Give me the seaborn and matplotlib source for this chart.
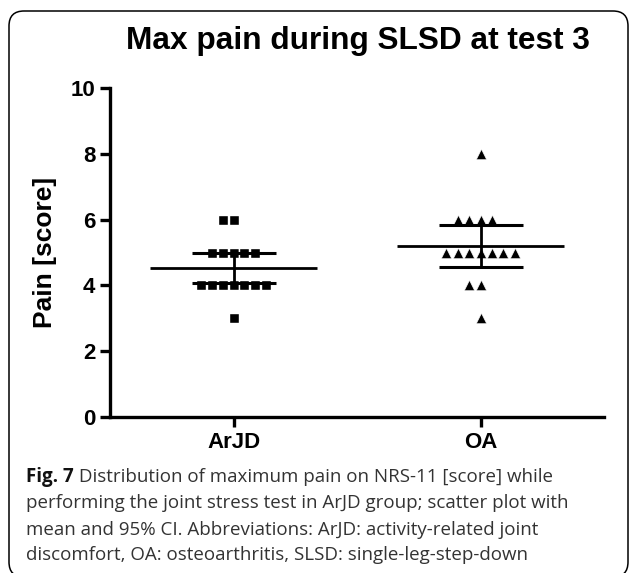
import numpy as np
import pandas as pd
import seaborn as sns
import matplotlib.pyplot as plt
from matplotlib.patches import FancyBboxPatch
from matplotlib.transforms import IdentityTransform

groups = ["ArJD", "OA"]
arjd_scores = [6, 6, 5, 5, 5, 5, 5, 4, 4, 4, 4, 4, 4, 4, 3]
oa_scores = [8, 6, 6, 6, 6, 5, 5, 5, 5, 5, 5, 5, 4, 4, 3]
group_markers = ["s", "^"]
y_ticks = [0, 2, 4, 6, 8, 10]

title = "Max pain during SLSD at test 3"
caption_bold = "Fig. 7"
caption_lines = [
    " Distribution of maximum pain on NRS-11 [score] while",
    "performing the joint stress test in ArJD group; scatter plot with",
    "mean and 95% CI. Abbreviations: ArJD: activity-related joint",
    "discomfort, OA: osteoarthritis, SLSD: single-leg-step-down",
]

data = pd.DataFrame({
    "group": ["ArJD"] * len(arjd_scores) + ["OA"] * len(oa_scores),
    "score": arjd_scores + oa_scores,
})

sns.set_style("ticks")
plt.rcParams["font.family"] = ["Liberation Sans", "DejaVu Sans"]
for k in ["text.color", "axes.labelcolor", "xtick.color", "ytick.color", "axes.edgecolor"]:
    plt.rcParams[k] = "black"

W, H = 630, 573
fig = plt.figure(figsize=(W / 100, H / 100), dpi=100)
ax = fig.add_axes([110 / W, 1 - 417 / H, (604 - 110) / W, (417 - 88) / H])

# marker size / white edge per group (gaps between the swarm points)
marker_sizes = [6.5, 7.4]
edge_widths = [1.0, 0.4]
for g, m, ms, ew in zip(groups, group_markers, marker_sizes, edge_widths):
    sns.swarmplot(data=data[data["group"] == g], x="group", y="score", order=groups,
                  marker=m, color="black", size=ms, linewidth=ew, edgecolor="white",
                  ax=ax, zorder=2)

# mean and 95% CI (t, df = 14)
t_crit = 2.1448
means = data.groupby("group")["score"].mean().reindex(groups).values
sems = data.groupby("group")["score"].sem().reindex(groups).values
pos = np.arange(len(groups))
ax.hlines(means, pos - 0.34, pos + 0.34, color="black", lw=2.0, zorder=3)
ax.errorbar(pos, means, yerr=t_crit * sems, fmt="none", ecolor="black",
            elinewidth=2.0, capsize=30, capthick=2.2, zorder=3)

ax.set_xlim(-0.5, 1.5)
ax.set_ylim(0, 10)
ax.set_yticks(y_ticks)
ax.set_xlabel("")
ax.set_ylabel("Pain [score]", fontsize=19, fontweight="bold", labelpad=10)
ax.tick_params(axis="both", width=2.4, length=7, labelsize=16, direction="out")
for lab in ax.get_xticklabels() + ax.get_yticklabels():
    lab.set_fontweight("bold")
for s in ["left", "bottom"]:
    ax.spines[s].set_linewidth(2.4)
sns.despine(ax=ax)

fig.text(358 / W, 1 - 49 / H, title, ha="center", va="baseline",
         fontsize=22.8, fontweight="bold")

# caption
cap_font = ["Open Sans", "DejaVu Sans"]
cap_size = 13.5
baselines = [482, 508, 535, 560]
t0 = fig.text(26 / W, 1 - baselines[0] / H, caption_bold, fontsize=cap_size,
              fontweight="bold", family=cap_font, va="baseline", color="#111111")
r = fig.canvas.get_renderer()
bb = t0.get_window_extent(r)
fig.text(bb.x1 / W, 1 - baselines[0] / H, caption_lines[0], fontsize=cap_size,
         family=cap_font, va="baseline", color="#333333")
for line, b in zip(caption_lines[1:], baselines[1:]):
    fig.text(26 / W, 1 - b / H, line, fontsize=cap_size, family=cap_font,
             va="baseline", color="#333333")

box = FancyBboxPatch((9, -4), 619, H - 11 + 4, boxstyle="round,pad=0,rounding_size=15",
                     transform=IdentityTransform(), fill=False, edgecolor="black",
                     lw=1.1, clip_on=False)
fig.patches.append(box)

fig.savefig("out.png", dpi=100)
